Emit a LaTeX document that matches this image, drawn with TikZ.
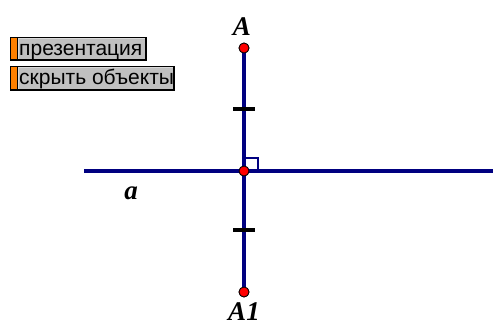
\documentclass[tikz,border=0pt]{standalone}
\usepackage{fontspec}
\setmainfont{Liberation Serif}
\newfontfamily\btnfont{Liberation Sans}
\definecolor{navyline}{RGB}{0,0,128}
\definecolor{btngrey}{RGB}{192,192,192}
\definecolor{btnorange}{RGB}{255,128,0}
\definecolor{ptred}{RGB}{255,0,0}
\begin{document}
\begin{tikzpicture}[x=1pt,y=-1pt,
  mainline/.style={navyline,line width=3.2pt},
  tickmark/.style={black,line width=3.2pt},
  pt/.style={circle,fill=ptred,draw=black,line width=0.8pt,inner sep=0pt,minimum size=10pt},
  lbl/.style={font=\fontsize{27}{27}\selectfont\bfseries\itshape,inner sep=0pt},
  btntext/.style={font=\btnfont\fontsize{21}{21}\selectfont,inner sep=0pt,anchor=base west}]
\useasboundingbox (0,0) rectangle (493,325);
% buttons
\fill[black] (10,37) rectangle (147,61);
\fill[btnorange] (11,38) rectangle (17,59);
\fill[btngrey] (18,38) rectangle (145,59);
\draw[white!85!black,line width=0.6pt] (18.5,58.5) -- (18.5,38.5) -- (144.5,38.5);
\node[btntext] (b1) at (19,55) {презентация};
\fill[black] (10,66) rectangle (175,91);
\fill[btnorange] (11,67) rectangle (17,89);
\fill[btngrey] (18,67) rectangle (173,89);
\draw[white!85!black,line width=0.6pt] (18.5,88.5) -- (18.5,67.5) -- (172.5,67.5);
\node[btntext] (b2) at (19,84.5) {скрыть объекты};
% geometry
\coordinate (L) at (84,171);
\coordinate (R) at (493,171);
\node[pt] (A) at (244,48) {};
\node[pt] (O) at (244,171) {};
\node[pt] (A1) at (244,292) {};
\draw[mainline] (L) -- (R);
\draw[mainline] (A.center) -- (A1.center);
\draw[navyline,line width=2pt] (245,157.5) -- (258,157.5) -- (258,171);
\coordinate (t1l) at (233,109); \coordinate (t1r) at (255,109);
\coordinate (t2l) at (233,230); \coordinate (t2r) at (255,230);
\draw[tickmark] (t1l) -- (t1r);
\draw[tickmark] (t2l) -- (t2r);
\node[pt] at (A) {};
\node[pt] at (O) {};
\node[pt] at (A1) {};
\node[lbl] (lA) at (242,27) {A};
\node[lbl,anchor=base] (lA1) at (244,320) {A1};
\node[lbl] (la) at (131,193) {a};
\end{tikzpicture}
\end{document}
